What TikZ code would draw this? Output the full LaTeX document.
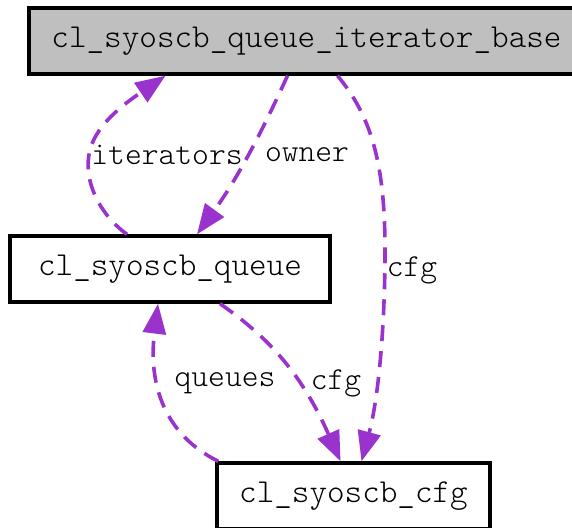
\documentclass[tikz,border=0pt]{standalone}
\usepackage{fontspec}
\setmonofont{Latin Modern Mono Light}
\usetikzlibrary{arrows.meta}
\definecolor{edgecol}{HTML}{9A32CD}
\definecolor{boxgray}{HTML}{BFBFBF}
\begin{document}
\begin{tikzpicture}[x=1pt,y=-1pt,
  box/.style={draw=black,line width=3.4pt,minimum height=66pt,inner sep=0pt,
    font=\fontsize{33.5}{36}\selectfont\ttfamily},
  rel/.style={draw=edgecol,line width=3.6pt,dash pattern=on 16pt off 10pt,
    -{Triangle[length=30pt,width=23pt]}},
  lbl/.style={font=\fontsize{32}{34}\selectfont\ttfamily,inner sep=0pt}]
\useasboundingbox (0,0) rectangle (572,527);
\begin{scope}
\clip (0,0) rectangle (572,527);
\node[box,fill=boxgray,minimum width=555pt] (base) at (306.5,41) {cl\_syoscb\_queue\_iterator\_base};
\node[box,fill=white,minimum width=320pt] (queue) at (170,269) {cl\_syoscb\_queue};
\node[box,fill=white,minimum width=273pt] (cfg) at (353.5,496) {cl\_syoscb\_cfg};

\draw[rel] ([xshift=-43pt]queue.north) .. controls (100,215) and (82,180) .. (90,150)
  .. controls (97,122) and (130,100) .. ([xshift=-141pt]base.south);
\draw[rel] ([xshift=-19pt]base.south) .. controls (265,125) and (240,175) .. ([xshift=27pt]queue.north);
\draw[rel] ([xshift=31pt]base.south) .. controls (370,115) and (385,160) .. (385,250)
  .. controls (385,330) and (378,400) .. ([xshift=8pt]cfg.north);
\draw[rel] ([xshift=50pt]queue.south) .. controls (265,335) and (300,370) .. ([xshift=-13pt]cfg.north);
\draw[rel] ([xshift=3pt]cfg.north west) .. controls (165,435) and (148,385) .. ([xshift=-12pt]queue.south);

\node[lbl] (l1) at (167,155) {iterators};
\node[lbl] (l2) at (307,155) {owner};
\node[lbl] (l3) at (412,270) {cfg};
\node[lbl] (l4) at (336,383) {cfg};
\node[lbl] (l5) at (225,383) {queues};
\end{scope}
\end{tikzpicture}
\end{document}
